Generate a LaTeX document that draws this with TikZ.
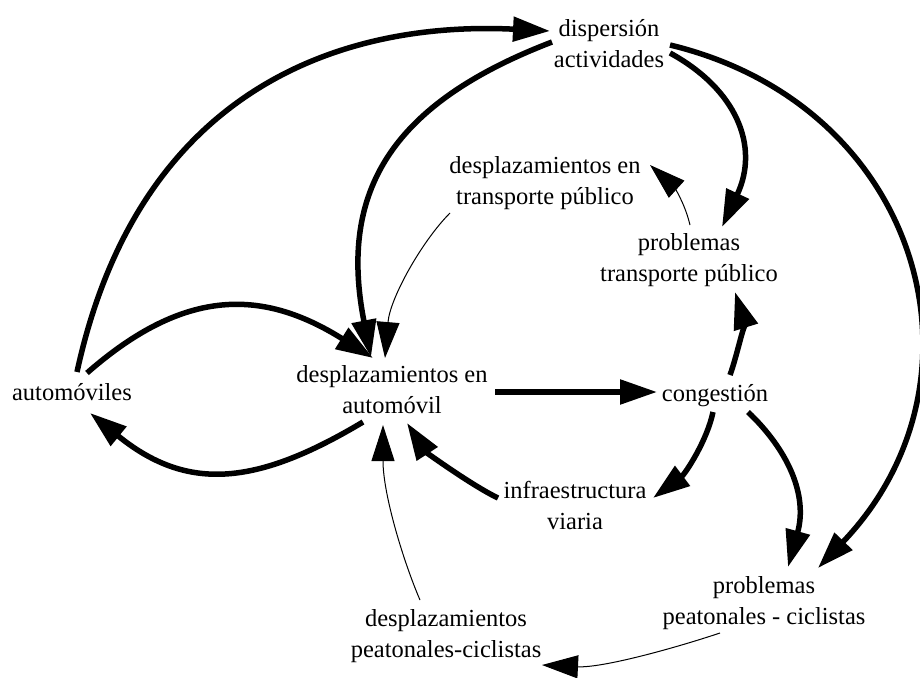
\documentclass[tikz,border=0pt]{standalone}
\usepackage{fontspec}
\setmainfont{Liberation Serif}
\usetikzlibrary{arrows.meta}

\begin{document}
\begin{tikzpicture}[x=1pt, y=-1pt,
  nivel/.style={align=center, inner sep=0pt, font=\fontsize{24.5}{31}\selectfont},
  fuerte/.style={line width=5.5pt, -{Triangle[length=37pt,width=24pt]}},
  debil/.style={line width=1pt, -{Triangle[length=36pt,width=23pt]}}]
  \useasboundingbox (0,0) rectangle (920,677);
  % variables
  \node[nivel] (disp)  at (609,44)  {dispersión\\actividades};
  \node[nivel] (dtp)   at (545,183) {desplazamientos en\\transporte público};
  \node[nivel] (ptp)   at (689,260) {problemas\\transporte público};
  \node[nivel] (autos) at (72,392)  {automóviles};
  \node[nivel] (dauto) at (392,390) {desplazamientos en\\automóvil};
  \node[nivel] (cong)  at (715,396) {congestión};
  \node[nivel] (infra) at (575,505) {infraestructura\\viaria};
  \node[nivel] (ppc)   at (764,603) {problemas\\peatonales - ciclistas};
  \node[nivel] (dpc)   at (446,636) {desplazamientos\\peatonales-ciclistas};
  % relaciones fuertes
  \foreach \ini/\pa/\ca/\cb/\fin/\pb in {
    autos/{5,-20}/{140,82}/{350,21}/disp/{-59,-13},
    disp/{-57,-2}/{393,103}/{338,190}/dauto/{-21,-33},
    disp/{61,9}/{736,89}/{760,146}/ptp/{33,-33},
    disp/{61,1}/{923,106}/{997,381}/ppc/{54,-35},
    autos/{15,-19}/{185,287}/{263,289}/dauto/{-19,-32},
    dauto/{-29,32}/{256,486}/{187,492}/autos/{18,21},
    cong/{15,-21}/{737,356}/{744,321}/ptp/{46,32},
    cong/{-2,16}/{707,441}/{685,474}/infra/{78,-7},
    infra/{-77,-7}/{471,485}/{426,452}/dauto/{15,33},
    cong/{33,16}/{788,450}/{808,495}/ppc/{24,-36}} {
    \draw[fuerte] ([shift={(\pa)}]\ini.center) .. controls (\ca) and (\cb) .. ([shift={(\pb)}]\fin.center);
  }
  \draw[fuerte] ([shift={(103,2)}]dauto.center) -- ([shift={(-58,-4)}]cong.center);
  % relaciones debiles
  \foreach \ini/\pa/\ca/\cb/\fin/\pb in {
    dtp/{-95,30}/{422,241}/{390,298}/dauto/{-7,-32},
    ptp/{1,-35}/{684,200}/{672,185}/dtp/{105,-18},
    dpc/{-26,-36}/{404,563}/{383,495}/dauto/{-9,35},
    ppc/{-44,30}/{672,649}/{602,668}/dpc/{96,29}} {
    \draw[debil] ([shift={(\pa)}]\ini.center) .. controls (\ca) and (\cb) .. ([shift={(\pb)}]\fin.center);
  }
\end{tikzpicture}
\end{document}
